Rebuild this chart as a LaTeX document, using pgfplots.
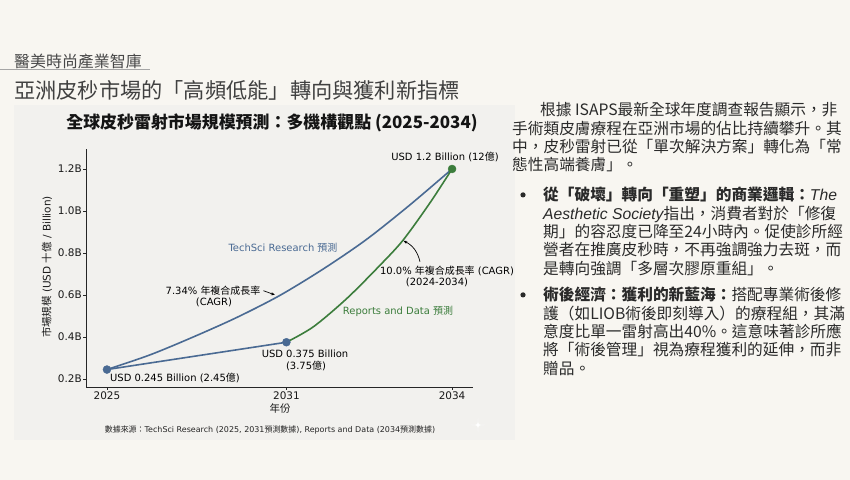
\documentclass[border=0pt]{standalone}
\usepackage{pgfplots}
\pgfplotsset{compat=1.18}
\usetikzlibrary{arrows.meta}
\usepackage{fontspec}
\setmainfont{DejaVu Sans}
\newfontfamily\cjk{Noto Sans CJK TC}
\newfontfamily\latit{Liberation Sans}

\definecolor{bg}{HTML}{F8F6F1}
\definecolor{panel}{HTML}{F2F1EE}
\definecolor{tsblue}{HTML}{4A6A93}
\definecolor{rdgreen}{HTML}{3C7D3C}
\definecolor{ink}{HTML}{2A2A2A}

% one line of the right-hand text, baseline at (x,y)
\newcommand{\tl}[3]{\node[anchor=base west,inner sep=0,text=ink] at (#1,#2) {\cjk\fontsize{15.75}{18}\selectfont #3};}

\begin{document}
\begin{tikzpicture}[x=1bp,y=1bp]
\useasboundingbox (0,0) rectangle (850,480);
\fill[bg] (0,0) rectangle (850,480);

% header
\node[anchor=west,inner sep=0,text=black!72] at (14,418.3) {\cjk\fontsize{16}{16}\selectfont 醫美時尚產業智庫};
\draw[black!35,line width=0.8bp] (0,410.7) -- (150,410.7);
\node[anchor=west,inner sep=0,text=black!75] at (14,390) {\cjk\fontsize{21.3}{22}\selectfont 亞洲皮秒市場的「高頻低能」轉向與獲利新指標};

% chart panel
\fill[panel] (14,40) rectangle (515,375);
\node[text=black!92] at (272,357) {\cjk\bfseries\fontsize{17}{18}\selectfont 全球皮秒雷射市場規模預測：多機構觀點 (2025-2034)};

\begin{axis}[
  at={(86bp,93bp)}, anchor=south west,
  scale only axis, width=387bp, height=238bp,
  xmin=-0.1214, xmax=2.1214, ymin=0.1619, ymax=1.2952,
  axis lines=left, axis line style={-, black!85, line width=0.8bp},
  xtick={0,1.04,2}, xticklabels={2025,2031,2034},
  ytick={0.2,0.4,0.6,0.8,1.0,1.2},
  yticklabels={0.2B,0.4B,0.6B,0.8B,1.0B,1.2B},
  tick align=outside, major tick length=3bp,
  tick style={black!85, line width=0.8bp},
  ticklabel style={font=\fontsize{10.5}{12}\selectfont, text=black!90},
  yticklabel style={inner sep=1bp},
  xticklabel style={inner sep=2bp},
  clip=false,
]
% TechSci Research
\addplot[tsblue, line width=1.6bp, smooth] coordinates {
  (0,0.245) (0.25,0.315) (0.5,0.400) (0.75,0.492) (1.0,0.597)
  (1.25,0.722) (1.5,0.862) (1.75,1.025) (2,1.2)
};
\addplot[tsblue, line width=1.6bp] coordinates {(0,0.245) (1.04,0.375)};
% Reports and Data
\addplot[rdgreen, line width=1.6bp, smooth] coordinates {
  (1.04,0.375) (1.197,0.449) (1.391,0.584) (1.584,0.743)
  (1.717,0.862) (1.873,1.040) (2,1.2)
};
\addplot[only marks, mark=*, mark size=4bp, tsblue] coordinates {(0,0.245) (1.04,0.375)};
\addplot[only marks, mark=*, mark size=4bp, rdgreen] coordinates {(2,1.2)};
\end{axis}

% axis titles and source
\node[rotate=90,text=black!90] at (47,213) {\fontsize{10.5}{12}\selectfont{\cjk 市場規模} (USD {\cjk 十億} / Billion)};
\node[text=black!90] at (280,71) {\cjk\fontsize{10.5}{12}\selectfont 年份};
\node[text=black!85] at (270,50) {\fontsize{8}{9}\selectfont{\cjk 數據來源：}TechSci Research (2025, 2031{\cjk 預測數據}), Reports and Data (2034{\cjk 預測數據})};

% annotations
\begin{scope}[every node/.style={inner sep=0, font=\fontsize{10}{12}\selectfont}]
\node[text=black] at (445,323) {USD 1.2 Billion (12{\cjk 億})};
\node[anchor=west,text=black] at (110,102) {USD 0.245 Billion (2.45{\cjk 億})};
\node[text=black] at (305,126) {USD 0.375 Billion};
\node[text=black] at (306,114) {(3.75{\cjk 億})};
\node[text=tsblue] at (283,232) {TechSci Research {\cjk 預測}};
\node[text=black] at (213,189) {7.34\% {\cjk 年複合成長率}};
\node[text=black] at (214,178) {(CAGR)};
\node[text=black] at (447,209) {10.0\% {\cjk 年複合成長率} (CAGR)};
\node[text=black] at (437,198) {(2024-2034)};
\node[text=rdgreen] at (398,169) {Reports and Data {\cjk 預測}};
\end{scope}
\draw[-{Stealth[length=4bp]}, line width=0.7bp] (263.5,189.3) -- (275,185);
\draw[-{Stealth[length=4bp]}, line width=0.7bp] (420,218.3) to[bend right=25] (403.3,239.3);

% sparkle
\fill[white] (478,62) .. controls (478,55) .. (485,55) .. controls (478,55) .. (478,48)
  .. controls (478,55) .. (471,55) .. controls (478,55) .. cycle;

% right-hand text
\tl{540}{364.1}{根據 ISAPS最新全球年度調查報告顯示，非}
\tl{512}{345.8}{手術類皮膚療程在亞洲市場的佔比持續攀升。其}
\tl{512}{327.4}{中，皮秒雷射已從「單次解決方案」轉化為「常}
\tl{512}{309.1}{態性高端養膚」。}

\fill[ink] (523,285.1) circle (2.6);
\tl{543}{279.1}{{\bfseries 從「破壞」轉向「重塑」的商業邏輯：}{\latit\itshape The}}
\tl{543}{260.8}{{\latit\itshape Aesthetic Society}指出，消費者對於「修復}
\tl{543}{242.4}{期」的容忍度已降至24小時內。促使診所經}
\tl{543}{224.1}{營者在推廣皮秒時，不再強調強力去斑，而}
\tl{543}{205.8}{是轉向強調「多層次膠原重組」。}

\fill[ink] (523,185.1) circle (2.6);
\tl{543}{179.1}{{\bfseries 術後經濟：獲利的新藍海：}搭配專業術後修}
\tl{543}{160.8}{護（如LIOB術後即刻導入）的療程組，其滿}
\tl{543}{142.4}{意度比單一雷射高出40\%。這意味著診所應}
\tl{543}{124.1}{將「術後管理」視為療程獲利的延伸，而非}
\tl{543}{105.8}{贈品。}
\end{tikzpicture}
\end{document}
